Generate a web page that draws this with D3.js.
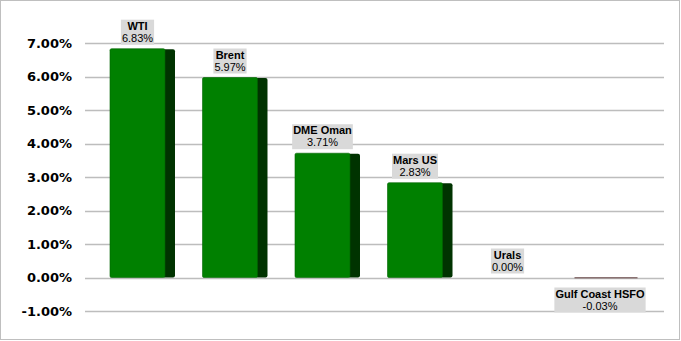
<!DOCTYPE html>
<html>
<head>
<meta charset="utf-8">
<script src="https://cdn.jsdelivr.net/npm/d3@7"></script>
<style>
  body { margin: 0; background: #fff; }
  .tick-label { font-family: "DejaVu Sans", Verdana, sans-serif; font-weight: bold; font-size: 13px; fill: #000; }
  .lbl { font-family: "Liberation Sans", Arial, sans-serif; font-size: 11px; fill: #000; }
</style>
</head>
<body>
<div id="chart"></div>
<script>
// data
var categories = ["WTI", "Brent", "DME Oman", "Mars US", "Urals", "Gulf Coast HSFO"];
var values = [6.83, 5.97, 3.71, 2.83, 0.00, -0.03];
var yTicks = [-1, 0, 1, 2, 3, 4, 5, 6, 7];

var width = 681, height = 341;

// plain hyphen instead of unicode minus
var pct = function(v) { return d3.format(".2f")(v).replace("\u2212", "-") + "%"; };

var svg = d3.select("#chart").append("svg")
    .attr("width", width)
    .attr("height", height);

// outer border
svg.append("rect")
    .attr("x", 0.5).attr("y", 0.5)
    .attr("width", width - 2).attr("height", height - 2)
    .attr("fill", "#fff")
    .attr("stroke", "#bfbfbf");

var y = d3.scaleLinear()
    .domain([-1, 7])
    .range([311, 43]);

var x = d3.scaleBand()
    .domain(categories)
    .range([96.25, 651.25])
    .paddingInner(0.2973)
    .paddingOuter(0.1486);

var sideW = 10;
var frontW = x.bandwidth() - sideW;

// gridlines
svg.append("g").selectAll("line")
    .data(yTicks)
    .enter().append("line")
    .attr("x1", 85).attr("x2", 664)
    .attr("y1", function(d) { return Math.round(y(d)) + 0.5; })
    .attr("y2", function(d) { return Math.round(y(d)) + 0.5; })
    .attr("stroke", "#bdbdbd")
    .attr("stroke-width", 1.5);

// y axis labels
svg.append("g").selectAll("text")
    .data(yTicks)
    .enter().append("text")
    .attr("class", "tick-label")
    .attr("x", 72)
    .attr("y", function(d) { return y(d); })
    .attr("dy", "0.36em")
    .attr("text-anchor", "end")
    .text(pct);

var data = categories.map(function(c, i) { return {name: c, value: values[i]}; });

var bars = svg.append("g").selectAll("g")
    .data(data)
    .enter().append("g");

// side face (dark)
bars.filter(function(d) { return d.value > 0.05; })
    .append("rect")
    .attr("x", function(d) { return x(d.name) + frontW - 2; })
    .attr("y", function(d) { return y(d.value) + 0.5; })
    .attr("width", sideW + 2)
    .attr("height", function(d) { return y(0) - y(d.value) - 0.5; })
    .attr("rx", 2)
    .attr("fill", "#003300");

// front face
bars.filter(function(d) { return d.value > 0.05; })
    .append("rect")
    .attr("x", function(d) { return x(d.name); })
    .attr("y", function(d) { return y(d.value); })
    .attr("width", frontW)
    .attr("height", function(d) { return y(0) - y(d.value); })
    .attr("rx", 1.5)
    .attr("fill", "#008000")
    .attr("stroke", "#006400")
    .attr("stroke-width", 0.6);

// tiny negative bar
bars.filter(function(d) { return d.value < 0; })
    .append("rect")
    .attr("x", function(d) { return x(d.name) + 2; })
    .attr("y", y(0) - 0.5)
    .attr("width", x.bandwidth() - 2)
    .attr("height", function(d) { return Math.max(1.5, y(d.value) - y(0)); })
    .attr("fill", "#8a7272");

// data labels
var labels = svg.append("g").selectAll("g")
    .data(data)
    .enter().append("g")
    .attr("transform", function(d) {
        var cx = x(d.name) + frontW / 2;
        var top = d.value >= 0 ? y(d.value) - 29 : y(0) + 10;
        return "translate(" + cx + "," + top + ")";
    });

labels.append("rect")
    .attr("fill", "#d9d9d9");

labels.append("text")
    .attr("class", "lbl")
    .attr("text-anchor", "middle")
    .attr("y", 10)
    .style("font-weight", "bold")
    .text(function(d) { return d.name; });

labels.append("text")
    .attr("class", "lbl")
    .attr("text-anchor", "middle")
    .attr("y", 22)
    .text(function(d) { return pct(d.value); });

labels.each(function() {
    var g = d3.select(this);
    var w = 0;
    g.selectAll("text").each(function() { w = Math.max(w, this.getComputedTextLength()); });
    g.select("rect")
        .attr("x", -w / 2 - 1)
        .attr("y", 0)
        .attr("width", w + 2)
        .attr("height", 25);
});
</script>
</body>
</html>
